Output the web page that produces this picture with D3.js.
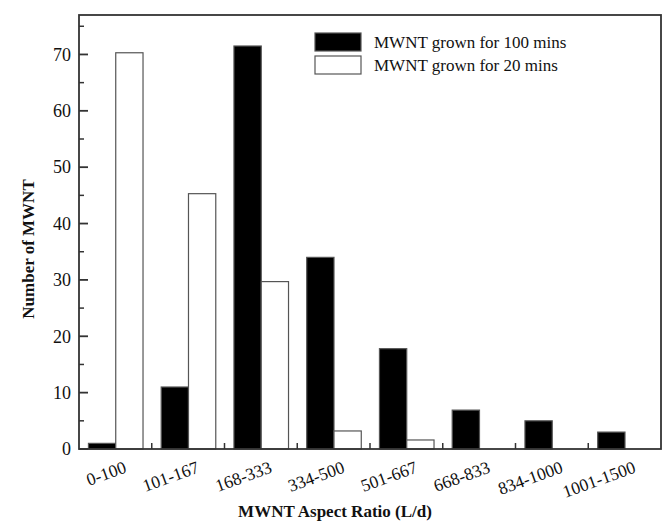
<!DOCTYPE html>
<html lang="en">
<head>
<meta charset="UTF-8">
<title>MWNT aspect ratio</title>
<script src="https://d3js.org/d3.v7.min.js"></script>
<style>
  body { margin: 0; background: #fff; }
  text { font-family: "Liberation Serif", "Times New Roman", serif; fill: #111; }
</style>
</head>
<body>
<svg id="chart" width="665" height="523"></svg>
<script>
var categories = ["0-100", "101-167", "168-333", "334-500", "501-667", "668-833", "834-1000", "1001-1500"]
var series = ["MWNT grown for 100 mins", "MWNT grown for 20 mins"]
var grown100 = [1, 11, 71.5, 34, 17.8, 6.9, 5, 3]
var grown20 = [70.3, 45.3, 29.7, 3.2, 1.6, 0, 0, 0]
var yTicks = [0, 10, 20, 30, 40, 50, 60, 70]

var svg = d3.select("#chart")
var pLeft = 79, pRight = 661, pTop = 15, pBottom = 449

var x = d3.scaleBand().domain(categories).range([pLeft, pRight])
var x1 = d3.scaleBand().domain(series).range([x.bandwidth() * 0.13, x.bandwidth() * 0.88])
var y = d3.scaleLinear().domain([0, 77]).range([pBottom, pTop])

var rows = categories.map(function(c, i) {
    return {cat: c, vals: [grown100[i], grown20[i]]}
})

// bars
var g = svg.selectAll("g.cat").data(rows).enter().append("g")
    .attr("transform", function(d) { return "translate(" + x(d.cat) + ",0)" })
g.selectAll("rect").data(function(d) {
        return d.vals.map(function(v, j) { return {s: series[j], v: v} }).filter(function(e) { return e.v > 0 })
    })
    .enter().append("rect")
    .attr("x", function(d) { return x1(d.s) })
    .attr("width", x1.bandwidth())
    .attr("y", function(d) { return y(d.v) })
    .attr("height", function(d) { return y(0) - y(d.v) })
    .attr("fill", function(d) { return d.s == series[0] ? "#000" : "#fff" })
    .attr("stroke", "#555")
    .attr("stroke-width", 1.2)

// frame
svg.append("rect")
    .attr("x", pLeft).attr("y", pTop)
    .attr("width", pRight - pLeft).attr("height", pBottom - pTop)
    .attr("fill", "none").attr("stroke", "#333").attr("stroke-width", 1.8)

// y ticks (inward)
var minor = d3.range(5, 80, 10)
svg.selectAll("line.ymin").data(minor).enter().append("line")
    .attr("x1", pLeft).attr("x2", pLeft + 5)
    .attr("y1", function(d) { return y(d) }).attr("y2", function(d) { return y(d) })
    .attr("stroke", "#333").attr("stroke-width", 1.5)
svg.selectAll("line.ymaj").data(yTicks).enter().append("line")
    .attr("x1", pLeft).attr("x2", pLeft + 9)
    .attr("y1", function(d) { return y(d) }).attr("y2", function(d) { return y(d) })
    .attr("stroke", "#333").attr("stroke-width", 1.8)
svg.selectAll("text.ylab").data(yTicks).enter().append("text")
    .attr("x", pLeft - 8).attr("y", function(d) { return y(d) })
    .attr("dy", "0.35em").attr("text-anchor", "end")
    .attr("font-size", 18)
    .text(function(d) { return d })

// x ticks at category boundaries
svg.selectAll("line.xt").data(categories.slice(1)).enter().append("line")
    .attr("x1", function(d) { return x(d) }).attr("x2", function(d) { return x(d) })
    .attr("y1", pBottom).attr("y2", pBottom - 6)
    .attr("stroke", "#333").attr("stroke-width", 1.5)
svg.selectAll("text.xlab").data(categories).enter().append("text")
    .attr("transform", function(d) {
        return "translate(" + (x(d) + x.bandwidth() / 2 + 12) + ",472) rotate(-20)"
    })
    .attr("text-anchor", "end")
    .attr("font-size", 17.5)
    .text(function(d) { return d })

// axis titles
svg.append("text")
    .attr("x", 335).attr("y", 517)
    .attr("text-anchor", "middle").attr("font-size", 17).attr("font-weight", "bold")
    .text("MWNT Aspect Ratio (L/d)")
svg.append("text")
    .attr("transform", "translate(34,249) rotate(-90)")
    .attr("text-anchor", "middle").attr("font-size", 17).attr("font-weight", "bold")
    .text("Number of MWNT")

// legend
var lg = svg.selectAll("g.leg").data(series).enter().append("g")
    .attr("transform", function(d, i) { return "translate(315," + (33 + i * 23) + ")" })
lg.append("rect")
    .attr("width", 46).attr("height", 18)
    .attr("fill", function(d, i) { return i == 0 ? "#000" : "#fff" })
    .attr("stroke", "#555").attr("stroke-width", 1.2)
lg.append("text")
    .attr("x", 59).attr("y", 9).attr("dy", "0.35em")
    .attr("font-size", 17)
    .text(function(d) { return d })
</script>
</body>
</html>
